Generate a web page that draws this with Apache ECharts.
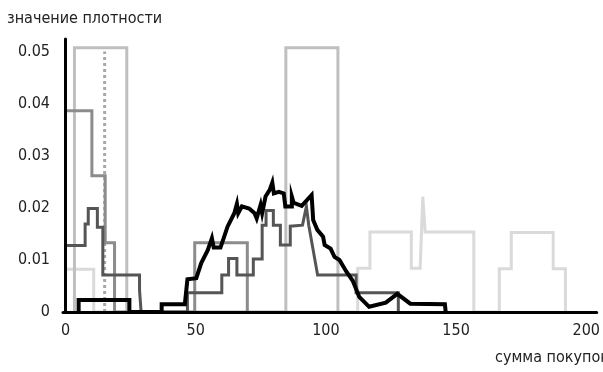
<!DOCTYPE html>
<html>
<head>
<meta charset="utf-8">
<script src="https://cdn.jsdelivr.net/npm/echarts@6/dist/echarts.min.js"></script>
<style>
  html, body { margin: 0; padding: 0; background: #fff; }
  #chart { width: 603px; height: 372px; }
</style>
</head>
<body>
<div id="chart"></div>
<script>
// данные (сумма покупок -> значение плотности)
const xTicks = [0, 50, 100, 150, 200];

const veryLightX = [0, 10.8, 10.8, 112.2, 112.2, 116.9, 116.9, 132.8, 132.8, 136.2, 137.2, 138.1, 156.8, 156.8, 166.6, 166.6, 171.2, 171.2, 187.3, 187.3, 192, 192];
const veryLightY = [0.0082, 0.0082, 0, 0, 0.0084, 0.0084, 0.0154, 0.0154, 0.0084, 0.0084, 0.0222, 0.0154, 0.0154, 0, 0, 0.0083, 0.0083, 0.0153, 0.0153, 0.0083, 0.0083, 0];

const lightX = [3.4, 3.4, 23.5, 23.5, 84.6, 84.6, 104.6, 104.6];
const lightY = [0, 0.0508, 0.0508, 0, 0, 0.0508, 0.0508, 0];

const dottedX = [15, 15];
const dottedY = [0, 0.0501];

const mediumX = [0, 10.1, 10.1, 15.2, 15.2, 18.8, 18.8, 49.6, 49.6, 69.8, 69.8];
const mediumY = [0.0387, 0.0387, 0.0262, 0.0262, 0.0133, 0.0133, 0, 0, 0.0133, 0.0133, 0];

const darkX = [0, 7.5, 7.5, 8.7, 8.7, 12.2, 12.2, 14.3, 14.3, 28.4, 28.4, 29, 29,
  46.8, 46.8, 60, 60, 62.6, 62.6, 65.8, 65.8, 72.1, 72.1, 75.5, 75.5, 77, 77, 79.8, 79.8, 82.5, 82.5, 86.3, 86.3,
  91, 92.5, 93.4, 96.8, 111.6, 111.6, 127.8, 127.8];
const darkY = [0.0128, 0.0128, 0.0169, 0.0169, 0.0199, 0.0199, 0.0163, 0.0163, 0.0071, 0.0071, 0.0042, 0.0042, 0,
  0, 0.0037, 0.0037, 0.0071, 0.0071, 0.0103, 0.0103, 0.0071, 0.0071, 0.0102, 0.0102, 0.0167, 0.0167, 0.0195, 0.0195, 0.0167, 0.0167, 0.0129, 0.0129, 0.0165,
  0.0167, 0.0203, 0.0167, 0.0071, 0.0071, 0.0037, 0.0037, 0];

const blackX = [5, 5, 24.5, 24.5, 36.9, 36.9, 45.8, 46.8, 50.2, 52.1, 54.6, 56.2, 56.9, 59.5, 62.2, 64.8, 65.8, 66.3, 67.7,
  70.5, 72.6, 73.4, 74.9, 75.5, 76.8, 78.4, 79.4, 80, 81.9, 83.8, 84.4, 86.9, 86.9, 87.6, 90.7, 94.5, 95.1, 96.7,
  98.9, 99.5, 101.8, 103.3, 105.2, 107.8, 110.3, 112.8, 116.6, 123, 127.4, 132.4, 145.7, 146];
const blackY = [0, 0.0023, 0.0023, 0, 0, 0.0015, 0.0015, 0.0063, 0.0065, 0.0094, 0.0119, 0.0142, 0.0124, 0.0124, 0.0164, 0.019, 0.0208, 0.019, 0.0203,
  0.0199, 0.019, 0.018, 0.0206, 0.019, 0.0222, 0.0235, 0.0249, 0.0228, 0.0231, 0.0228, 0.0203, 0.0203, 0.0222, 0.021, 0.0204, 0.0225, 0.0177, 0.0158,
  0.0145, 0.0129, 0.0122, 0.0106, 0.01, 0.0078, 0.006, 0.0029, 0.001, 0.0018, 0.0035, 0.0016, 0.0015, 0];

function pairs(xs, ys) {
  return xs.map((x, i) => [x, ys[i]]);
}

const font = '"Liberation Sans Narrow", "DejaVu Sans Condensed", sans-serif';

function stepLine(name, xs, ys, color, width, type) {
  return {
    name: name,
    type: 'line',
    data: pairs(xs, ys),
    symbol: 'none',
    clip: false,
    lineStyle: { color: color, width: width, type: type || 'solid', join: 'miter' },
    emphasis: { disabled: true }
  };
}

const chart = echarts.init(document.getElementById('chart'));
const option = {
  animation: false,
  backgroundColor: '#fff',
  title: [
    { text: 'значение плотности', left: 2, top: 6, padding: 5,
      textStyle: { fontFamily: font, fontSize: 16, fontWeight: 'normal', color: '#222' } },
    { text: 'сумма покупок', left: 490, top: 345, padding: 5,
      textStyle: { fontFamily: font, fontSize: 16, fontWeight: 'normal', color: '#222' } }
  ],
  grid: { left: 63, right: 0, top: 39, bottom: 60 },
  xAxis: {
    type: 'value',
    min: -1,
    max: 204,
    z: 10,
    splitLine: { show: false },
    axisTick: { show: false },
    axisLine: { lineStyle: { color: '#000', width: 3 } },
    axisLabel: {
      customValues: xTicks,
      margin: 11,
      fontFamily: font,
      fontSize: 16,
      color: '#222'
    }
  },
  yAxis: {
    type: 'value',
    min: 0,
    max: 0.0525,
    interval: 0.01,
    z: 10,
    splitLine: { show: false },
    axisTick: { show: false },
    axisLine: { show: true, lineStyle: { color: '#000', width: 3 } },
    axisLabel: {
      showMaxLabel: false,
      margin: 13,
      fontFamily: font,
      fontSize: 16,
      color: '#222'
    }
  },
  series: [
    stepLine('очень светлая', veryLightX, veryLightY, '#dadada', 3),
    stepLine('светлая', lightX, lightY, '#bfbfbf', 3),
    stepLine('пунктир', dottedX, dottedY, '#a8a8a8', 3, 'dotted'),
    stepLine('серая', mediumX, mediumY, '#8c8c8c', 3),
    stepLine('тёмная', darkX, darkY, '#555555', 3),
    stepLine('чёрная', blackX, blackY, '#000000', 4)
  ]
};
chart.setOption(option);
</script>
</body>
</html>
